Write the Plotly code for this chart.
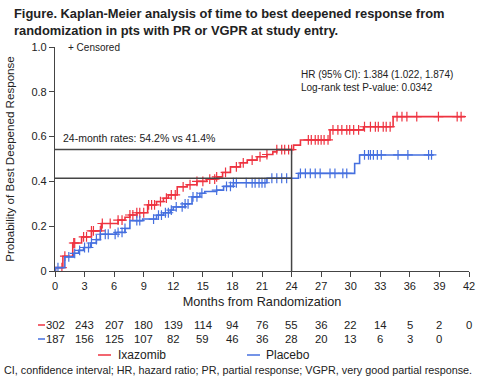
import plotly.graph_objects as go

# ---- Data ----
ixa_step_times = [0.05, 0.8, 1.8, 2.7, 3.7, 4.7, 6.4, 7.1, 7.6, 8.3, 9.4, 10.3, 11.0, 11.5, 12.4,
                  13.4, 14.4, 15.4, 16.4, 17.0, 17.8, 18.8, 19.5, 20.5, 21.5, 22.1, 22.5,
                  24.2, 24.9, 27.9, 31.3, 34.3]
ixa_step_probs = [0.015, 0.066, 0.125, 0.152, 0.179, 0.212, 0.227, 0.240, 0.250, 0.260, 0.295,
                  0.310, 0.325, 0.340, 0.376, 0.385, 0.400, 0.410, 0.420, 0.440, 0.465, 0.483,
                  0.495, 0.510, 0.520, 0.532, 0.542, 0.562, 0.585, 0.630, 0.644, 0.689]
ixa_censor = [0.7, 1.0, 1.9, 2.0, 2.9, 3.2, 3.7, 3.9, 4.6, 4.8, 5.6, 6.4, 6.8, 7.6, 7.9, 8.3,
              8.6, 9.0, 9.5, 9.8, 10.1, 10.7, 11.3, 11.8, 12.2, 13.0, 13.7, 14.4, 15.0, 15.7,
              16.2, 16.4, 17.3, 18.4, 19.1, 20.0, 20.8, 21.5, 22.5, 23.0, 23.3, 23.7, 24.0,
              25.7, 26.0, 26.4, 26.7, 27.0, 27.3, 27.7, 28.2, 28.7, 29.1, 29.6, 29.9, 30.3,
              30.8, 31.4, 32.0, 32.5, 32.8, 33.3, 33.6, 34.0, 34.7, 35.2, 35.7, 36.7, 38.9,
              40.8, 41.2]
ixa_end = 41.6

pbo_step_times = [0.05, 1.0, 1.9, 2.4, 2.9, 3.6, 4.2, 4.6, 6.2, 7.1, 7.6, 8.9, 10.3, 11.0, 11.7,
                  12.0, 13.2, 13.9, 14.7, 15.2, 16.4, 17.1, 18.1, 21.5, 24.7, 30.4, 30.9]
pbo_step_probs = [0.015, 0.063, 0.079, 0.092, 0.105, 0.125, 0.140, 0.164, 0.172, 0.190, 0.225,
                  0.232, 0.249, 0.260, 0.272, 0.286, 0.300, 0.331, 0.347, 0.355, 0.361, 0.378,
                  0.394, 0.414, 0.436, 0.480, 0.518]
pbo_censor = [0.3, 1.4, 2.0, 2.5, 3.0, 3.4, 3.7, 4.2, 4.6, 5.1, 5.4, 6.1, 6.4, 6.8, 7.1, 8.3,
              8.6, 10.0, 10.5, 10.8, 11.2, 11.5, 11.8, 12.3, 12.9, 13.2, 13.5, 14.0, 14.4, 14.9,
              16.4, 17.4, 17.8, 18.1, 18.4, 19.4, 20.0, 20.3, 20.7, 21.0, 21.3, 22.0, 22.5,
              23.0, 23.5, 24.9, 25.4, 25.9, 26.4, 26.9, 27.9, 28.4, 29.2, 29.6, 31.4, 31.8,
              32.0, 32.3, 32.7, 33.1, 34.8, 35.8, 37.9, 38.2]
pbo_end = 38.4

x_ticks = [0, 3, 6, 9, 12, 15, 18, 21, 24, 27, 30, 33, 36, 39, 42]
y_ticks = [0, 0.2, 0.4, 0.6, 0.8, 1.0]
y_tick_labels = ["0", "0.2", "0.4", "0.6", "0.8", "1.0"]
ixa_at_risk = [302, 243, 207, 180, 139, 114, 94, 76, 55, 36, 22, 14, 5, 2, 0]
pbo_at_risk = [187, 156, 125, 107, 82, 59, 46, 36, 28, 20, 13, 6, 3, 0]
landmark_month = 24
ixa_rate_24 = 0.542
pbo_rate_24 = 0.414

RED = "#EE3340"
BLUE = "#4670DF"
DARK = "#444444"
TXT = "#222222"
FONT = "Liberation Sans, Arial, sans-serif"

# plot area geometry (pixels) used to place paper-referenced annotations
L, T, W, H = 55, 47, 414, 224


def px(xpix):
    return (xpix - L) / W


def py(ypix):
    return (T + H - ypix) / H


def step_value(times, probs, t):
    v = 0.0
    for st, p in zip(times, probs):
        if st <= t:
            v = p
    return v


def km_xy(times, probs, end):
    xs = [0] + list(times) + [end]
    ys = [0] + list(probs) + [probs[-1]]
    return xs, ys


fig = go.Figure()

for times, probs, cens, end, col in [
    (ixa_step_times, ixa_step_probs, ixa_censor, ixa_end, RED),
    (pbo_step_times, pbo_step_probs, pbo_censor, pbo_end, BLUE),
]:
    xs, ys = km_xy(times, probs, end)
    fig.add_trace(go.Scatter(x=xs, y=ys, mode="lines", line=dict(color=col, width=1.6, shape="hv"),
                             showlegend=False, hoverinfo="skip"))
    fig.add_trace(go.Scatter(x=cens, y=[step_value(times, probs, t) for t in cens], mode="markers",
                             marker=dict(symbol="cross-thin", size=7, line=dict(color=col, width=1.2)),
                             showlegend=False, hoverinfo="skip"))

# Landmark reference lines
for y0, y1, x0, x1 in [(ixa_rate_24, ixa_rate_24, 0, landmark_month),
                       (pbo_rate_24, pbo_rate_24, 0, landmark_month),
                       (0, ixa_rate_24, landmark_month, landmark_month)]:
    fig.add_shape(type="line", xref="x", yref="y", x0=x0, x1=x1, y0=y0, y1=y1,
                  line=dict(color=DARK, width=1.5))

annotations = []
annotations.append(dict(xref="paper", yref="paper", x=px(12), y=py(4), xanchor="left", yanchor="top",
                        align="left", showarrow=False,
                        text="<b>Figure. Kaplan-Meier analysis of time to best deepened response from<br>"
                             "randomization in pts with PR or VGPR at study entry.</b>",
                        font=dict(size=12.9, color=TXT, family=FONT)))
annotations.append(dict(xref="paper", yref="paper", x=px(66), y=py(47), xanchor="left", yanchor="middle",
                        showarrow=False, text="+ Censored", font=dict(size=10, color=TXT, family=FONT)))
annotations.append(dict(xref="paper", yref="paper", x=px(61), y=py(138), xanchor="left", yanchor="middle",
                        showarrow=False, text="24-month rates: 54.2% vs 41.4%",
                        font=dict(size=10.5, color=TXT, family=FONT)))
annotations.append(dict(xref="paper", yref="paper", x=px(299), y=py(81), xanchor="left", yanchor="middle",
                        align="left", showarrow=False,
                        text="HR (95% CI): 1.384 (1.022, 1.874)<br>Log-rank test P-value: 0.0342",
                        font=dict(size=10, color=TXT, family=FONT)))

# Number at risk
for i, v in enumerate(ixa_at_risk):
    annotations.append(dict(xref="x", yref="paper", x=x_ticks[i], y=py(325), xanchor="center",
                            yanchor="middle", showarrow=False, text=str(v),
                            font=dict(size=11.3, color=TXT, family=FONT)))
for i, v in enumerate(pbo_at_risk):
    annotations.append(dict(xref="x", yref="paper", x=x_ticks[i], y=py(339), xanchor="center",
                            yanchor="middle", showarrow=False, text=str(v),
                            font=dict(size=11.3, color=TXT, family=FONT)))

fig.add_shape(type="line", xref="paper", yref="paper", x0=px(38), x1=px(45), y0=py(325), y1=py(325),
              line=dict(color=RED, width=1.5))
fig.add_shape(type="line", xref="paper", yref="paper", x0=px(38), x1=px(45), y0=py(339), y1=py(339),
              line=dict(color=BLUE, width=1.5))

# Legend (manual)
fig.add_shape(type="line", xref="paper", yref="paper", x0=px(98), x1=px(111), y0=py(355), y1=py(355),
              line=dict(color=RED, width=1.5))
annotations.append(dict(xref="paper", yref="paper", x=px(116), y=py(355), xanchor="left", yanchor="middle",
                        showarrow=False, text="Ixazomib", font=dict(size=12, color=TXT, family=FONT)))
fig.add_shape(type="line", xref="paper", yref="paper", x0=px(247), x1=px(260), y0=py(355), y1=py(355),
              line=dict(color=BLUE, width=1.5))
annotations.append(dict(xref="paper", yref="paper", x=px(264), y=py(355), xanchor="left", yanchor="middle",
                        showarrow=False, text="Placebo", font=dict(size=12, color=TXT, family=FONT)))

# Footnote
annotations.append(dict(xref="paper", yref="paper", x=px(2), y=py(370), xanchor="left", yanchor="middle",
                        showarrow=False,
                        text="CI, confidence interval; HR, hazard ratio; PR, partial response; VGPR, very good partial response.",
                        font=dict(size=10.8, color=TXT, family=FONT)))

fig.update_layout(
    width=500, height=382,
    margin=dict(l=L, r=500 - L - W, t=T, b=382 - T - H, autoexpand=False),
    paper_bgcolor="white", plot_bgcolor="white",
    font=dict(family=FONT, color=TXT, size=11),
    annotations=annotations,
    showlegend=False,
)
fig.update_xaxes(range=[0, 42], tickvals=x_ticks, ticks="outside", ticklen=5, tickwidth=1.2,
                 tickcolor=DARK, showline=True, linecolor=DARK, linewidth=1.2, showgrid=False,
                 zeroline=False, automargin=False,
                 title=dict(text="Months from Randomization", standoff=5, font=dict(size=12.7)),
                 tickfont=dict(size=11))
fig.update_yaxes(range=[0, 1.0], tickvals=y_ticks, ticktext=y_tick_labels, ticks="outside", ticklen=5,
                 tickwidth=1.2, tickcolor=DARK, showline=True, linecolor=DARK, linewidth=1.2,
                 showgrid=False, zeroline=False, automargin=False,
                 title=dict(text="Probability of Best Deepened Response", standoff=14, font=dict(size=11.6)),
                 tickfont=dict(size=11))

# remove the browser's default 8px page margin so the figure fills the 500x382 window
fig.write_html("out.html", config={"displayModeBar": False},
               post_script="document.body.style.margin='0px';")
